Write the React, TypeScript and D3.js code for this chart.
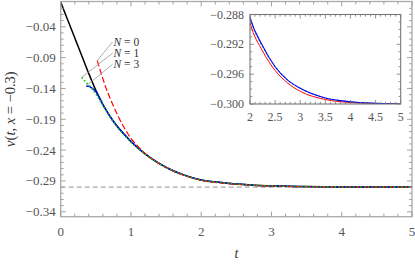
import React from 'react';
import * as d3 from 'd3';

// exact solution (black)
const tExact = [0, 0.1, 0.2, 0.3, 0.4, 0.5, 0.6, 0.7, 0.8, 0.9, 1.0, 1.2, 1.4, 1.6, 1.8, 2.0, 2.25, 2.5, 2.75, 3.0, 3.5, 4.0, 4.5, 5.0];
const vExact = [0, -0.029, -0.058, -0.087, -0.116, -0.143, -0.166, -0.185, -0.201, -0.214, -0.226, -0.246, -0.2615, -0.2735, -0.2822, -0.2884, -0.2922, -0.2950, -0.2968, -0.2979, -0.2992, -0.2997, -0.2999, -0.3];

// N = 0 (red, dashed)
const tN0 = [0.52, 0.55, 0.6, 0.65, 0.7, 0.8, 0.9, 1.0, 1.1, 1.2, 1.4, 1.6, 1.8, 2.0, 2.25, 2.5, 2.75, 3.0, 3.5, 4.0, 4.5, 5.0];
const vN0 = [-0.095, -0.106, -0.124, -0.141, -0.155, -0.181, -0.203, -0.221, -0.234, -0.2455, -0.2618, -0.2738, -0.2827, -0.2891, -0.2929, -0.2955, -0.2972, -0.2983, -0.2994, -0.2998, -0.29995, -0.3];

// N = 1 (green, dotted)
const tN1 = [0.3, 0.35, 0.4, 0.45, 0.5, 0.6, 0.7, 0.8, 0.9, 1.0, 1.2, 1.4, 1.6, 1.8, 2.0, 2.25, 2.5, 2.75, 3.0, 3.5, 4.0, 4.5, 5.0];
const vN1 = [-0.122, -0.129, -0.135, -0.141, -0.149, -0.167, -0.186, -0.202, -0.215, -0.227, -0.2465, -0.2618, -0.2736, -0.2823, -0.2885, -0.2923, -0.2950, -0.2968, -0.2979, -0.2992, -0.2997, -0.2999, -0.3];

// N = 3 (blue)
const tN3 = [0.36, 0.4, 0.44, 0.5, 0.6, 0.7, 0.8, 0.9, 1.0, 1.2, 1.4, 1.6, 1.8, 2.0, 2.25, 2.5, 2.75, 3.0, 3.5, 4.0, 4.5, 5.0];
const vN3 = [-0.136, -0.1365, -0.139, -0.145, -0.166, -0.185, -0.201, -0.214, -0.226, -0.246, -0.2615, -0.2735, -0.2822, -0.2884, -0.2922, -0.2950, -0.2968, -0.2979, -0.2992, -0.2997, -0.2999, -0.3];

const xTicks = [0, 1, 2, 3, 4, 5];
const yTicks = [-0.34, -0.29, -0.24, -0.19, -0.14, -0.09, -0.04];
const yTickLabels = ['−0.34', '−0.29', '−0.24', '−0.19', '−0.14', '−0.09', '−0.04'];
const insetXTicks = [2, 2.5, 3, 3.5, 4, 4.5, 5];
const insetXTickLabels = ['2', '2.5', '3', '3.5', '4', '4.5', '5'];
const insetYTicks = [-0.3, -0.296, -0.292, -0.288];
const insetYTickLabels = ['−0.300', '−0.296', '−0.292', '−0.288'];
const seriesNames = ['0', '1', '3'];
const asymptote = -0.3;

const font = '"Liberation Serif", "DejaVu Serif", serif';

const x = d3.scaleLinear().domain([0, 5]).range([60.7, 412]);
const y = d3.scaleLinear().domain([-0.348, 0.001]).range([216.7, 1.5]);
const ix = d3.scaleLinear().domain([2, 5]).range([250, 400.7]);
const iy = d3.scaleLinear().domain([-0.3, -0.288]).range([104, 14.5]);

const zip = (ts: number[], vs: number[]) => ts.map((t, i) => [t, vs[i]] as [number, number]);

const App = () => {
  const line = d3.line<[number, number]>().x(d => x(d[0])).y(d => y(d[1])).curve(d3.curveMonotoneX);
  const iline = d3.line<[number, number]>().x(d => ix(d[0])).y(d => iy(d[1])).curve(d3.curveMonotoneX);

  const exact = { data: zip(tExact, vExact), color: '#000', dash: null, w: 1.5 };
  const approx = [
    { data: zip(tN0, vN0), color: '#ff0000', dash: '6,2.5', w: 1.2 },
    { data: zip(tN1, vN1), color: '#00c800', dash: '1.5,2.2', w: 1.6 },
    { data: zip(tN3, vN3), color: '#0000ff', dash: null, w: 1.4 },
  ];

  const [x0, x1] = x.range();
  const [yb, yt] = y.range();
  const [ix0, ix1] = ix.range();
  const [iyb, iyt] = iy.range();

  const xMinor = d3.range(0, 5.001, 0.2);
  const yMinor = d3.range(-0.34, -0.0001, 0.01);
  const ixMinor = d3.range(2, 5.001, 0.1);
  const iyMinor = d3.range(-0.3, -0.2879, 0.001);

  // start points of series for label leaders
  const starts = [
    [tN0[0], vN0[0]],
    [tN1[0], vN1[0]],
    [tN3[0], vN3[0]],
  ];

  return (
    <svg width={415} height={266} style={{ position: 'absolute', left: 0, top: 0 }} fontFamily={font}>
      <defs>
        <clipPath id="main"><rect x={x0} y={yt} width={x1 - x0} height={yb - yt} /></clipPath>
        <clipPath id="ins"><rect x={ix0} y={iyt} width={ix1 - ix0} height={iyb - iyt} /></clipPath>
      </defs>
      <rect width={415} height={266} fill="#fff" />

      {/* main curves */}
      <line x1={x0} x2={x1} y1={y(asymptote)} y2={y(asymptote)} stroke="#aaa" strokeWidth={1.2} strokeDasharray="5,3" />
      <g clipPath="url(#main)">
        <path d={line(exact.data) || ''} fill="none" stroke={exact.color} strokeWidth={exact.w} />
        {[approx[2], approx[0], approx[1]].map((s, i) => (
          <path key={i} d={line(s.data) || ''} fill="none" stroke={s.color} strokeWidth={s.w}
            strokeDasharray={s.dash || undefined} />
        ))}
      </g>

      {/* main frame */}
      <rect x={x0} y={yt} width={x1 - x0} height={yb - yt} fill="none" stroke="#aaa" strokeWidth={1.3} />
      {xMinor.map((t, i) => {
        const major = Math.abs(t - Math.round(t)) < 1e-6;
        const l = major ? 5 : 3;
        return (
          <g key={'xm' + i} stroke="#999" strokeWidth={0.9}>
            <line x1={x(t)} x2={x(t)} y1={yb} y2={yb - l} />
            <line x1={x(t)} x2={x(t)} y1={yt} y2={yt + l} />
          </g>
        );
      })}
      {yMinor.map((v, i) => {
        const major = yTicks.some(m => Math.abs(m - v) < 1e-6);
        const l = major ? 5 : 3;
        return (
          <g key={'ym' + i} stroke="#999" strokeWidth={0.9}>
            <line x1={x0} x2={x0 + l} y1={y(v)} y2={y(v)} />
            <line x1={x1} x2={x1 - l} y1={y(v)} y2={y(v)} />
          </g>
        );
      })}
      {xTicks.map(t => (
        <text key={'xt' + t} x={x(t)} y={236} textAnchor="middle" fontSize={13} fill="#555">{t}</text>
      ))}
      {yTicks.map((v, i) => (
        <text key={'yt' + i} x={x0 - 5} y={y(v) + 4.5} textAnchor="end" fontSize={13} fill="#555">{yTickLabels[i]}</text>
      ))}
      <text x={(x0 + x1) / 2} y={258} textAnchor="middle" fontSize={14} fontStyle="italic" fill="#333">t</text>
      <text transform={`translate(15, ${(yt + yb) / 2}) rotate(-90)`} textAnchor="middle" fontSize={14.5} fill="#333">
        <tspan fontStyle="italic">v</tspan>(<tspan fontStyle="italic">t</tspan>, <tspan fontStyle="italic">x</tspan> = −0.3)
      </text>

      {/* series labels */}
      {seriesNames.map((n, i) => {
        const ly = 42 + i * 11.2;
        const [t0, v0] = starts[i];
        return (
          <g key={'lab' + i}>
            <line x1={112.5} y1={ly} x2={x(t0)} y2={y(v0)} stroke="#999" strokeWidth={0.8} />
            <text x={113.5} y={ly + 4} fontSize={11.5} fill="#333">
              <tspan fontStyle="italic">N</tspan> = {n}
            </text>
          </g>
        );
      })}

      {/* inset */}
      <rect x={ix0} y={iyt} width={ix1 - ix0} height={iyb - iyt} fill="#fff" />
      <g clipPath="url(#ins)">
        {approx.map((s, i) => (
          <path key={'i' + i} d={iline(s.data) || ''} fill="none" stroke={s.color}
            strokeWidth={i === 0 ? 1 : 1.1} strokeDasharray={i === 0 ? undefined : s.dash || undefined} />
        ))}
      </g>
      <rect x={ix0} y={iyt} width={ix1 - ix0} height={iyb - iyt} fill="none" stroke="#777" strokeWidth={1.1} />
      {ixMinor.map((t, i) => {
        const major = insetXTicks.some(m => Math.abs(m - t) < 1e-6);
        const l = major ? 4 : 2.2;
        return (
          <g key={'ixm' + i} stroke="#777" strokeWidth={0.8}>
            <line x1={ix(t)} x2={ix(t)} y1={iyb} y2={iyb - l} />
            <line x1={ix(t)} x2={ix(t)} y1={iyt} y2={iyt + l} />
          </g>
        );
      })}
      {iyMinor.map((v, i) => {
        const major = insetYTicks.some(m => Math.abs(m - v) < 1e-7);
        const l = major ? 4 : 2.2;
        return (
          <g key={'iym' + i} stroke="#777" strokeWidth={0.8}>
            <line x1={ix0} x2={ix0 + l} y1={iy(v)} y2={iy(v)} />
            <line x1={ix1} x2={ix1 - l} y1={iy(v)} y2={iy(v)} />
          </g>
        );
      })}
      {insetXTicks.map((t, i) => (
        <text key={'ixt' + i} x={ix(t)} y={121} textAnchor="middle" fontSize={12} fill="#555">{insetXTickLabels[i]}</text>
      ))}
      {insetYTicks.map((v, i) => (
        <text key={'iyt' + i} x={ix0 - 6} y={iy(v) + 4} textAnchor="end" fontSize={12} fill="#555">{insetYTickLabels[i]}</text>
      ))}
    </svg>
  );
};

export default App;
